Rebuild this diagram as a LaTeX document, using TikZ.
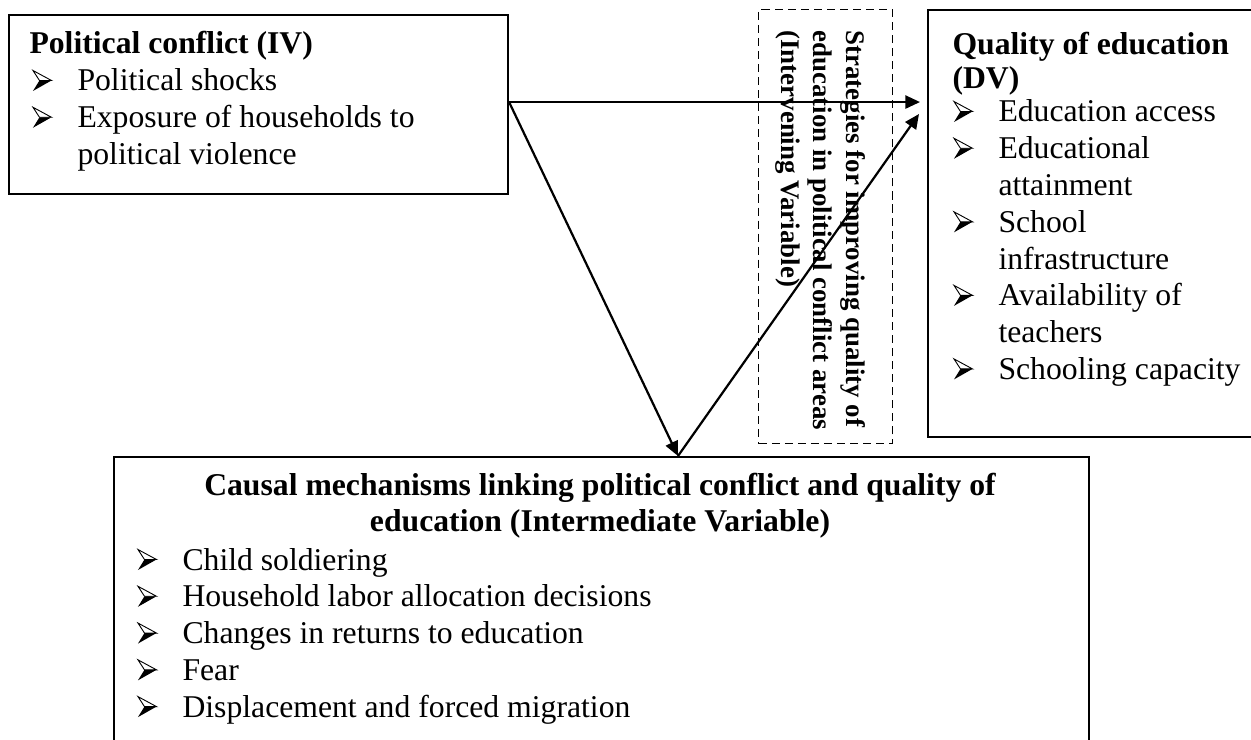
\documentclass[tikz,border=0pt]{standalone}
\usepackage{fontspec}
\setmainfont{Liberation Serif}
\usetikzlibrary{arrows.meta,calc}
\newdimen\pu \pu=0.3834pt
\newcommand{\bul}{\tikz[baseline=0pt,x=\pu,y=\pu,line join=miter]{%
  \fill (0.5,0) -- (19,10.5) -- (7,10.5) -- cycle;
  \draw[line width=0.35pt] (0.5,20.5) -- (19,10.5) -- (7,10.5) -- cycle;}}
\newcommand{\itm}[1]{\hbox{\makebox[45\pu][l]{\bul}#1}}
\newcommand{\cnt}[1]{\hbox{\hspace*{45\pu}#1}}
\tikzset{
  boxframe/.style={draw, line width=0.8pt, rectangle, inner sep=0pt},
  dashframe/.style={draw, line width=0.55pt, dash pattern=on 3.1pt off 1.9pt, rectangle, inner sep=0pt},
  txt/.style={inner sep=0pt, font=\fontsize{12.15}{14.1}\selectfont},
  rtxt/.style={inner sep=0pt, font=\fontsize{10.3}{12.46}\selectfont\bfseries, rotate=-90},
  arr/.style={line width=0.85pt, -{Triangle[length=5.6pt,width=5pt]}}
}
\begin{document}
\begin{tikzpicture}[x=\pu, y=-\pu]
\useasboundingbox (0,0) rectangle (1251,740);
% boxes
\node[boxframe, anchor=north west, minimum width=499\pu, minimum height=179\pu] (IV) at (8,14) {};
\node[boxframe, anchor=north west, minimum width=340\pu, minimum height=427\pu] (DV) at (927,9) {};
\node[dashframe, anchor=north west, minimum width=134\pu, minimum height=434\pu] (IVV) at (758,9) {};
\node[boxframe, anchor=north west, minimum width=975\pu, minimum height=300\pu] (MECH) at (113,456) {};
% texts
\node[txt, anchor=base west] (ivtitle) at (29,54) {\vtop{\hbox{\bfseries Political conflict (IV)}}};
\node[txt, anchor=base west] (ivlist) at (32,91) {\vtop{%
  \itm{Political shocks}
  \itm{Exposure of households to}
  \cnt{political violence}}};
\node[txt, anchor=base west] (dvtitle) at (952,55) {\vtop{\baselineskip=33.5\pu
  \hbox{\bfseries Quality of education}
  \hbox{\bfseries (DV)}}};
\node[txt, anchor=base west] (dvlist) at (953,122) {\vtop{%
  \itm{Education access}
  \itm{Educational}
  \cnt{attainment}
  \itm{School}
  \cnt{infrastructure}
  \itm{Availability of}
  \cnt{teachers}
  \itm{Schooling capacity}}};
\node[rtxt, anchor=base west] (ivvtext) at (846,30) {\vtop{%
  \hbox{Strategies for improving quality of}
  \hbox{education in political conflict areas}
  \hbox{(Intervening Variable)}}};
\node[txt, anchor=base] (mechtitle) at (600,495) {\vtop{\bfseries\halign{\hfil#\hfil\cr
  Causal mechanisms linking political conflict and quality of\cr
  education (Intermediate Variable)\cr}}};
\node[txt, anchor=base west] (mechlist) at (137,570) {\vtop{%
  \itm{Child soldiering}
  \itm{Household labor allocation decisions}
  \itm{Changes in returns to education}
  \itm{Fear}
  \itm{Displacement and forced migration}}};
% connectors
\coordinate (start) at ($(IV.east)+(0,-2.5)$);
\coordinate (bot) at ($(MECH.north west)+(565,0)$);
\draw[arr] (start) -- (start -| DV.west) [shorten >=7\pu];
\draw[arr] (start) -- (bot);
\draw[arr] (bot) -- ($(DV.north west)+(-8,105)$);
\end{tikzpicture}
\end{document}
